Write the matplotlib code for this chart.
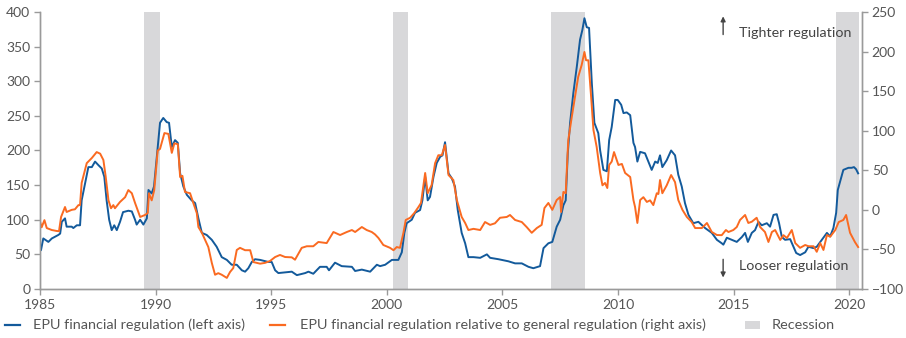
import matplotlib
matplotlib.use("Agg")
import matplotlib.pyplot as plt
from matplotlib.lines import Line2D
from matplotlib.patches import Rectangle

plt.rcParams["font.family"] = ["Lato", "DejaVu Sans"]

# EPU financial regulation index (left axis)
fin_years = [
    1985.0, 1985.04, 1985.14, 1985.36, 1985.51, 1985.79, 1985.87, 1985.94, 1986.08, 1986.15,
    1986.37, 1986.44, 1986.59, 1986.73, 1986.8, 1986.95, 1987.09, 1987.24, 1987.38, 1987.52,
    1987.67, 1987.78, 1987.88, 1987.99, 1988.1, 1988.21, 1988.32, 1988.46, 1988.59, 1988.82,
    1988.97, 1989.11, 1989.18, 1989.33, 1989.47, 1989.62, 1989.69, 1989.83, 1989.93, 1990.05,
    1990.19, 1990.33, 1990.48, 1990.58, 1990.7, 1990.84, 1990.96, 1991.06, 1991.2, 1991.35,
    1991.56, 1991.71, 1991.85, 1992.0, 1992.21, 1992.43, 1992.64, 1992.86, 1993.08, 1993.29,
    1993.51, 1993.73, 1993.87, 1994.01, 1994.16, 1994.3, 1994.52, 1994.88, 1995.02, 1995.17,
    1995.31, 1995.6, 1995.89, 1996.11, 1996.47, 1996.61, 1996.82, 1997.11, 1997.4, 1997.5,
    1997.76, 1998.05, 1998.49, 1998.63, 1998.92, 1999.28, 1999.57, 1999.71, 1999.93, 2000.22,
    2000.5, 2000.65, 2000.76, 2000.86, 2001.08, 2001.22, 2001.44, 2001.54, 2001.66, 2001.77,
    2001.87, 2002.02, 2002.16, 2002.31, 2002.41, 2002.52, 2002.67, 2002.81, 2002.95, 2003.07,
    2003.24, 2003.39, 2003.53, 2003.75, 2004.04, 2004.33, 2004.47, 2004.83, 2005.26, 2005.55,
    2005.84, 2006.13, 2006.34, 2006.63, 2006.78, 2006.99, 2007.16, 2007.35, 2007.5, 2007.64,
    2007.74, 2007.83, 2007.93, 2008.07, 2008.22, 2008.36, 2008.46, 2008.55, 2008.65, 2008.75,
    2008.87, 2008.98, 2009.15, 2009.23, 2009.37, 2009.52, 2009.62, 2009.73, 2009.88, 2009.99,
    2010.14, 2010.24, 2010.38, 2010.53, 2010.67, 2010.74, 2010.84, 2010.96, 2011.17, 2011.46,
    2011.61, 2011.72, 2011.82, 2011.92, 2012.11, 2012.3, 2012.47, 2012.61, 2012.76, 2012.9,
    2013.05, 2013.26, 2013.48, 2013.77, 2014.06, 2014.28, 2014.49, 2014.56, 2014.71, 2014.92,
    2015.14, 2015.36, 2015.5, 2015.62, 2015.79, 2015.93, 2016.08, 2016.22, 2016.44, 2016.58,
    2016.73, 2016.87, 2016.97, 2017.09, 2017.23, 2017.45, 2017.71, 2017.88, 2018.1, 2018.24,
    2018.46, 2018.6, 2018.82, 2019.04, 2019.18, 2019.32, 2019.44, 2019.51, 2019.61, 2019.75,
    2019.97, 2020.11, 2020.21, 2020.3, 2020.39,
]
fin_values = [
    59, 56, 73, 68, 73, 78, 80, 97, 102, 90,
    90, 88, 92, 92, 128, 153, 176, 176, 184, 179,
    174, 162, 128, 100, 85, 92, 85, 97, 111, 113,
    112, 100, 93, 100, 93, 102, 143, 138, 148, 191,
    240, 247, 241, 240, 205, 215, 211, 167, 148, 136,
    128, 124, 102, 81, 78, 71, 61, 46, 42, 35,
    35, 27, 25, 30, 39, 43, 42, 39, 39, 27,
    23, 24, 25, 20, 23, 25, 22, 32, 32, 27,
    38, 33, 32, 26, 28, 25, 35, 33, 35, 42,
    42, 53, 81, 95, 100, 110, 114, 128, 162, 128,
    133, 162, 182, 191, 193, 212, 167, 160, 148, 114,
    81, 66, 46, 46, 45, 50, 45, 43, 40, 37,
    37, 32, 30, 33, 59, 66, 68, 90, 100, 121,
    128, 196, 240, 283, 321, 360, 374, 391, 378, 377,
    297, 240, 225, 200, 172, 170, 215, 234, 273, 273,
    266, 254, 255, 251, 211, 205, 184, 198, 196, 172,
    184, 182, 193, 176, 186, 200, 193, 165, 148, 124,
    107, 95, 97, 88, 81, 71, 66, 64, 74, 71,
    68, 75, 81, 68, 81, 85, 97, 92, 95, 90,
    107, 108, 95, 75, 71, 72, 52, 49, 53, 61,
    59, 61, 71, 81, 76, 88, 110, 143, 155, 172,
    175, 175, 176, 173, 167,
]

# EPU financial regulation relative to general regulation (right axis)
rel_years = [
    1985.0, 1985.07, 1985.19, 1985.29, 1985.51, 1985.72, 1985.82, 1985.91, 1986.08, 1986.15,
    1986.37, 1986.51, 1986.66, 1986.73, 1986.8, 1987.02, 1987.24, 1987.45, 1987.6, 1987.74,
    1987.84, 1987.96, 1988.07, 1988.17, 1988.24, 1988.46, 1988.68, 1988.82, 1988.97, 1989.11,
    1989.33, 1989.54, 1989.66, 1989.71, 1989.83, 1989.94, 1990.09, 1990.19, 1990.38, 1990.55,
    1990.7, 1990.81, 1990.96, 1991.06, 1991.16, 1991.27, 1991.49, 1991.63, 1991.78, 1991.85,
    1992.0, 1992.14, 1992.28, 1992.43, 1992.57, 1992.71, 1992.86, 1993.08, 1993.22, 1993.36,
    1993.51, 1993.65, 1993.87, 1994.09, 1994.23, 1994.52, 1994.73, 1994.95, 1995.17, 1995.38,
    1995.6, 1995.89, 1996.03, 1996.32, 1996.54, 1996.82, 1997.04, 1997.4, 1997.69, 1997.98,
    1998.27, 1998.49, 1998.63, 1998.92, 1999.13, 1999.35, 1999.49, 1999.64, 1999.85, 2000.14,
    2000.29, 2000.43, 2000.57, 2000.72, 2000.82, 2001.01, 2001.19, 2001.37, 2001.48, 2001.66,
    2001.77, 2001.94, 2002.09, 2002.23, 2002.38, 2002.52, 2002.67, 2002.88, 2003.03, 2003.24,
    2003.39, 2003.53, 2003.75, 2004.04, 2004.25, 2004.47, 2004.68, 2004.9, 2005.19, 2005.33,
    2005.55, 2005.84, 2006.05, 2006.27, 2006.49, 2006.7, 2006.82, 2006.99, 2007.16, 2007.35,
    2007.5, 2007.54, 2007.64, 2007.74, 2007.85, 2008.0, 2008.14, 2008.28, 2008.43, 2008.55,
    2008.62, 2008.72, 2008.84, 2008.94, 2009.08, 2009.23, 2009.33, 2009.44, 2009.54, 2009.62,
    2009.73, 2009.83, 2010.02, 2010.17, 2010.31, 2010.53, 2010.67, 2010.74, 2010.84, 2010.96,
    2011.1, 2011.25, 2011.39, 2011.53, 2011.68, 2011.75, 2011.82, 2011.92, 2012.11, 2012.3,
    2012.47, 2012.61, 2012.79, 2012.98, 2013.19, 2013.34, 2013.63, 2013.85, 2014.06, 2014.28,
    2014.49, 2014.67, 2014.78, 2014.99, 2015.14, 2015.28, 2015.5, 2015.64, 2015.79, 2016.0,
    2016.15, 2016.36, 2016.51, 2016.66, 2016.8, 2017.02, 2017.16, 2017.31, 2017.52, 2017.67,
    2017.88, 2018.1, 2018.24, 2018.46, 2018.6, 2018.75, 2018.89, 2019.04, 2019.18, 2019.4,
    2019.55, 2019.75, 2019.87, 2020.04, 2020.25, 2020.39,
]
rel_values = [
    -15, -22, -13, -23, -25.5, -26.7, -27, -9, 3.6, -2.7,
    0, 0.7, 6, 6, 34, 59, 65.5, 73, 71, 63,
    42, 12, 2, 6, 2, 10, 16, 25, 21, 8.7,
    -9, -6.5, -4, 21, 12, 25, 75, 77, 97, 96,
    72, 84, 83, 41.5, 43, 22.6, 21, 8.7, -4, -21.7,
    -29, -38, -47, -67, -82, -80, -82, -86, -78.5, -73.5,
    -50.7, -48, -51, -51, -66, -68, -67, -64.6, -59.6, -57,
    -59.6, -60, -63, -48, -46, -46, -40.6, -42, -28, -31.8,
    -28, -25.5, -28, -21.7, -25.5, -28, -31, -35.6, -44.4, -48,
    -51, -47, -48, -29, -12.8, -10, -4, 3.6, 8.7, 46.6,
    21, 31.4, 59, 69, 69, 82, 44, 37.7, 12.4, -9,
    -16.6, -25.5, -24, -25.5, -15.4, -19, -17, -10, -9, -6.5,
    -12.8, -15.4, -21.7, -29, -23, -19, 2.3, 8.7, 0, 12.4,
    16.2, -2.7, 22.6, 21, 88, 117, 142.6, 168, 183, 199.5,
    189, 189, 142.6, 101, 79.4, 46.6, 31, 34, 27.6, 56.7,
    61, 73, 56.7, 58, 46.6, 41.5, 12.4, 3.6, -16.6, 12.4,
    16, 10, 12, 6, 21, 20, 37.7, 21, 31, 44,
    35, 12.4, 0, -9, -15.4, -23, -23, -16.6, -28, -31.8,
    -32, -25.5, -28, -25.5, -21.7, -12.8, -6.5, -16.6, -15, -10,
    -21.7, -28, -40.6, -28, -25.5, -38, -32, -35.6, -25.5, -42,
    -48, -44.4, -46, -46, -53, -42, -50.7, -31.8, -34, -25.5,
    -15.4, -12.8, -6.5, -29, -40.6, -47,
]

# US recession periods (start, end) as decimal years
recessions = [(1989.51, 1990.2), (2000.29, 2000.91), (2007.11, 2008.58), (2019.44, 2020.41)]

BLUE = "#135A9B"
ORANGE = "#FA6A21"
GREY_BAND = "#D8D8DA"
TEXT = "#555555"
AXIS = "#9A9A9A"

fig = plt.figure(figsize=(9.06, 3.38), dpi=100)
ax = fig.add_axes([0.0442, 0.145, 0.9073, 0.8195])
ax2 = ax.twinx()

for start, end in recessions:
    ax.axvspan(start, end, color=GREY_BAND, lw=0, zorder=0)

ax.plot(fin_years, fin_values, color=BLUE, lw=1.4, zorder=3)
ax2.plot(rel_years, rel_values, color=ORANGE, lw=1.4, zorder=2)

ax.set_xlim(1985, 2020.56)
ax.set_ylim(0, 400)
ax2.set_ylim(-100, 250)
ax.set_xticks(range(1985, 2021, 5))
ax.set_yticks(range(0, 401, 50))
ax2.set_yticks(range(-100, 251, 50))

for a in (ax, ax2):
    a.spines["top"].set_visible(False)
    for side in ("left", "right", "bottom"):
        a.spines[side].set_color(AXIS)
        a.spines[side].set_linewidth(1.0)
    a.tick_params(colors=AXIS, labelcolor=TEXT, labelsize=10, length=4, width=1.0, pad=3)
ax.patch.set_visible(False)

# direction hints for the relative series
arrow = dict(arrowstyle="-|>", color="#444444", lw=1.0, mutation_scale=7)
ax2.annotate("", xy=(2014.55, 248), xytext=(2014.55, 218), arrowprops=arrow)
ax2.annotate("", xy=(2014.55, -89), xytext=(2014.55, -59), arrowprops=arrow)
ax2.text(2015.25, 223, "Tighter regulation", color="#444444", fontsize=10.3, va="center", ha="left")
ax2.text(2015.25, -71, "Looser regulation", color="#444444", fontsize=10.3, va="center", ha="left")

# legend row along the bottom, laid out in figure pixels
W, H = 906, 338
leg_y = 1 - 325 / H
fig.add_artist(Line2D([5 / W, 20 / W], [leg_y, leg_y], color=BLUE, lw=1.6))
fig.text(33 / W, leg_y, "EPU financial regulation (left axis)", color=TEXT,
         fontsize=10.4, va="center", ha="left")
fig.add_artist(Line2D([270 / W, 285 / W], [leg_y, leg_y], color=ORANGE, lw=1.6))
fig.text(300 / W, leg_y, "EPU financial regulation relative to general regulation (right axis)",
         color=TEXT, fontsize=10.4, va="center", ha="left")
fig.add_artist(Rectangle((745 / W, leg_y - 4 / H), 15 / W, 8 / H, color=GREY_BAND, lw=0))
fig.text(772 / W, leg_y, "Recession", color=TEXT, fontsize=10.4, va="center", ha="left")

fig.savefig("out.png", dpi=100)
